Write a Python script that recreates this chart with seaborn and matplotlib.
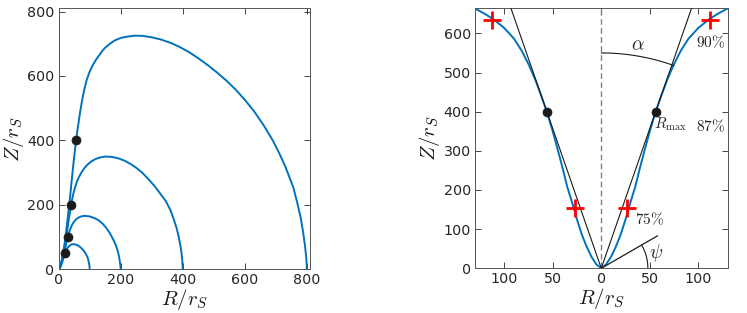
import numpy as np
import pandas as pd
import matplotlib
matplotlib.use("Agg")
import matplotlib.pyplot as plt
from matplotlib.ticker import FuncFormatter
import seaborn as sns

# ---------------- data ----------------
# outermost field line (ends at R = 800); its inner part is also the right panel curve
big_R = [0, 5, 10, 15, 20, 25, 30, 35, 40, 45, 50, 56, 62, 68, 75, 82, 90, 100, 110, 120, 130,
         140, 150, 165, 180, 200, 220, 245, 270, 300, 330, 360, 390, 420, 450, 480, 510, 540,
         570, 600, 630, 660, 690, 710, 730, 742, 756, 769, 780, 788, 794, 797, 799, 800]
big_Z = [0, 10, 29, 55, 86, 125, 168, 208, 258, 305, 350, 400, 442, 482, 522, 556, 587, 614, 634, 650, 663.5,
         677, 688, 700, 710, 718, 722, 725, 724.5, 720, 713, 703, 690, 674, 655, 634, 611, 586,
         558, 526, 490, 448, 400, 362, 320, 290, 255, 206, 160, 114, 72, 45, 20, 0]

c400_R = [0, 7, 14, 20, 25.6, 30, 35, 40, 46, 52, 58, 65, 73, 82, 92, 104, 118, 133, 150, 170,
          190, 210, 230, 250, 270, 290, 310, 328, 345, 360, 371, 380, 387, 392, 396, 398.5, 400]
c400_Z = [0, 14, 42, 74, 106, 138, 170, 200, 230, 252, 270, 286, 300, 313, 324, 334, 342, 347, 350, 349,
          345, 338, 328, 315, 299, 279, 257, 234, 212, 184, 155, 128, 100, 75, 50, 25, 0]

c200_R = [0, 5, 10, 14.5, 18.6, 21.8, 25.2, 29, 33, 37, 42, 48, 55, 63, 72, 84, 100, 115, 127, 140,
          153, 165, 176, 184, 190, 194, 197, 199, 200]
c200_Z = [0, 7, 21, 37, 53, 69, 85, 100, 113, 124, 136, 146, 154, 160, 164, 166, 164, 159, 153, 143,
          129, 112, 92, 75, 58, 42, 25, 10, 0]

c100_R = [0, 3.6, 7.2, 10, 12.8, 15, 17.4, 20, 23, 27, 31, 36, 41, 47, 54, 61, 68, 75, 82, 88,
          93, 96, 98, 99.5, 100]
c100_Z = [0, 3.5, 10.5, 18.5, 26.5, 34.5, 42.5, 50, 57, 64, 69.5, 74, 77, 78, 77, 74.5, 70, 64, 56, 47,
          37, 27, 17, 7, 0]

dots_R = [20, 29, 40, 55.5]
dots_Z = [50, 100, 200, 400]

# right panel markers
rmax_R, rmax_Z = 56, 400
cross_R = [27, 112]
cross_Z = [153, 633]
psi_R, psi_Z = 58, 83
alpha_arc_Z = 550
psi_arc_R = 48

BLUE = "#0072BD"
GREY = "#262626"

sns.set_theme(style="white")
plt.rcParams["font.family"] = ["DejaVu Sans"]
plt.rcParams["mathtext.fontset"] = "cm"

W, H = 747, 313
fig = plt.figure(figsize=(W / 100, H / 100), dpi=100)
ax1 = fig.add_axes([58.7 / W, 1 - 269.3 / H, (310 - 58.7) / W, (269.3 - 8.3) / H])
ax2 = fig.add_axes([475 / W, 1 - 268.3 / H, (727.5 - 475) / W, (268.3 - 8.3) / H])

# ---------------- left panel ----------------
frames = []
for name, R, Z in [("800", big_R, big_Z), ("400", c400_R, c400_Z),
                   ("200", c200_R, c200_Z), ("100", c100_R, c100_Z)]:
    frames.append(pd.DataFrame({"R": R, "Z": Z, "line": name}))
df_left = pd.concat(frames, ignore_index=True)
sns.lineplot(data=df_left, x="R", y="Z", units="line", estimator=None, sort=False,
             color=BLUE, lw=1.4, ax=ax1)
sns.scatterplot(x=dots_R, y=dots_Z, color="k", s=42, edgecolor="k", linewidth=0.5,
                zorder=5, ax=ax1)
ax1.set_xlim(0, 810)
ax1.set_ylim(0, 810)
ax1.set_xticks([0, 200, 400, 600, 800])
ax1.set_yticks([0, 200, 400, 600, 800])

# ---------------- right panel ----------------
bR = np.array(big_R, dtype=float)
bZ = np.array(big_Z, dtype=float)
m = bR <= 130
for side in (-1, 1):
    sns.lineplot(x=side * bR[m], y=bZ[m], sort=False, estimator=None, color=BLUE, lw=1.4, ax=ax2)
    ax2.plot([0, side * rmax_R * 2], [0, rmax_Z * 2], color="k", lw=0.8, zorder=3)
ax2.axvline(0, color="#808080", ls=(0, (4, 2.5)), lw=1.0, zorder=1)
sns.scatterplot(x=[-rmax_R, rmax_R], y=[rmax_Z, rmax_Z], color="k", s=42, edgecolor="k",
                linewidth=0.5, zorder=5, ax=ax2)
cx = [-c for c in cross_R] + cross_R
cz = cross_Z + cross_Z
sns.scatterplot(x=cx, y=cz, marker="+", color="red", s=150, linewidth=2.0, zorder=6, ax=ax2)

xmax, ymax = 130, 664
ax2.set_xlim(-xmax, xmax)
ax2.set_ylim(0, ymax)
ax2.set_xticks([-100, -50, 0, 50, 100])
ax2.set_yticks([0, 100, 200, 300, 400, 500, 600])
ax2.xaxis.set_major_formatter(FuncFormatter(lambda v, p: f"{abs(v):g}"))

# pixel scales so that arcs are circular on screen
pos = ax2.get_position()
sx = pos.width * W / (2 * xmax)
sy = pos.height * H / ymax
# alpha arc
r_px = alpha_arc_Z * sy
a = np.arctan2(rmax_R * sx, rmax_Z * sy)
t = np.linspace(0, a * 1.03, 60)
ax2.plot(r_px * np.sin(t) / sx, r_px * np.cos(t) / sy, color="k", lw=0.8)
# psi line and arc
ax2.plot([0, psi_R], [0, psi_Z], color="k", lw=0.9)
r_px = psi_arc_R * sx
b = np.arctan2(psi_Z * sy, psi_R * sx)
t = np.linspace(0, b, 40)
ax2.plot(r_px * np.cos(t) / sx, r_px * np.sin(t) / sy, color="k", lw=0.8)

ax2.text(38, 572, r"$\alpha$", fontsize=14, ha="center", va="center")
ax2.text(57, 38, r"$\psi$", fontsize=14, ha="center", va="center")
ax2.text(113, 578, r"$90\%$", fontsize=11, ha="center", va="center")
ax2.text(112.5, 362, r"$87\%$", fontsize=11, ha="center", va="center")
ax2.text(54, 357, r"$R_{\max}$", fontsize=11, ha="left", va="baseline")
ax2.text(49.5, 126, r"$75\%$", fontsize=11, ha="center", va="center")

# ---------------- styling ----------------
for ax in (ax1, ax2):
    ax.set_xlabel(r"$R/r_S$", fontsize=15, labelpad=0, color="k")
    ax.set_ylabel(r"$Z/r_S$", fontsize=15, labelpad=1, color="k")
    ax.tick_params(direction="in", bottom=True, left=True, top=True, right=True,
                   length=4, width=0.6, color=GREY, labelsize=10.3, labelcolor=GREY, pad=3)
    for s in ax.spines.values():
        s.set_color("#555555")
        s.set_linewidth(0.7)
    ax.set_facecolor("white")

fig.savefig("out.png", dpi=100, facecolor="white")
